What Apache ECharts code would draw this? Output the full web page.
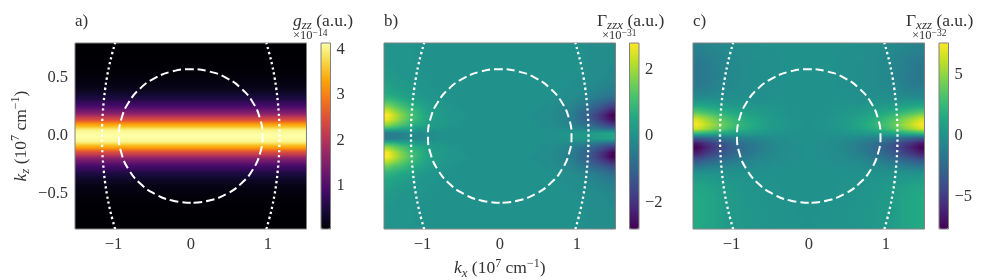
<!DOCTYPE html>
<html><head><meta charset="utf-8">
<style>html,body{margin:0;padding:0;background:#fff}#c{width:996px;height:280px}</style>
<script src="https://cdn.jsdelivr.net/npm/echarts@6/dist/echarts.min.js"></script>
</head><body><div id="c"></div>
<script>
const panelLabels=['a)','b)','c)'];
const kxCols=[-1.45,-1.35,-1.25,-1.15,-1.05,-.95,-.85,-.75,-.65,-.55,-.45,-.35,-.25,-.15,-.05,.05,.15,.25,.35,.45,.55,.65,.75,.85,.95,1.05,1.15,1.25,1.35,1.45];
const kzRows=[.78,.74,.7,.66,.62,.58,.54,.5,.46,.42,.38,.34,.3,.26,.22,.18,.14,.1,.06,.02,-.02,-.06,-.1,-.14,-.18,-.22,-.26,-.3,-.34,-.38,-.42,-.46,-.5,-.54,-.58,-.62,-.66,-.7,-.74,-.78];
const kzFine=[.79,.77,.75,.73,.71,.69,.67,.65,.63,.61,.59,.57,.55,.53,.51,.49,.47,.45,.43,.41,.39,.37,.35,.33,.31,.29,.27,.25,.23,.21,.19,.17,.15,.13,.11,.09,.07,.05,.03,.01,-.01,-.03,-.05,-.07,-.09,-.11,-.13,-.15,-.17,-.19,-.21,-.23,-.25,-.27,-.29,-.31,-.33,-.35,-.37,-.39,-.41,-.43,-.45,-.47,-.49,-.51,-.53,-.55,-.57,-.59,-.61,-.63,-.65,-.67,-.69,-.71,-.73,-.75,-.77,-.79];
const gzz=[.06,.06,.06,.06,.06,.07,.07,.07,.07,.07,.08,.08,.09,.1,.11,.13,.15,.17,.2,.24,.29,.35,.42,.5,.6,.72,.85,1,1.18,1.4,1.65,1.95,2.3,2.65,3.05,3.4,3.75,4,4.1,4.14,4.14,4.1,4,3.75,3.4,3.05,2.65,2.3,1.95,1.65,1.4,1.18,1,.85,.72,.6,.5,.42,.35,.29,.24,.2,.17,.15,.13,.11,.1,.09,.08,.08,.07,.07,.07,.07,.07,.06,.06,.06,.06,.06];
const gammaZzx=[
[.1,.1,.1,.1,0,0,0,0,0,0,0,0,0,0,0,0,0,0,0,0,0,0,0,0,0,0,-.1,-.1,-.1,-.1],
[.1,.1,.1,.1,0,0,0,0,0,0,0,0,0,0,0,0,0,0,0,0,0,0,0,0,0,0,-.1,-.1,-.1,-.1],
[.1,.1,.1,.1,0,0,0,0,0,0,0,0,0,0,0,0,0,0,0,0,0,0,0,0,0,0,-.1,-.1,-.1,-.1],
[.1,.1,.1,.1,0,0,0,0,0,0,0,0,0,0,0,0,0,0,0,0,0,0,0,0,0,0,-.1,-.1,-.1,-.1],
[.1,.1,.1,.1,0,0,0,0,0,0,0,0,0,0,0,0,0,0,0,0,0,0,0,0,0,0,-.1,-.1,-.1,-.1],
[.2,.1,.1,.1,0,0,0,0,0,0,0,0,0,0,0,0,0,0,0,0,0,0,0,0,0,0,-.1,-.1,-.1,-.2],
[.2,.1,.1,.1,.1,0,0,0,0,0,0,0,0,0,0,0,0,0,0,0,0,0,0,0,0,-.1,-.1,-.1,-.1,-.2],
[.2,.2,.1,.1,.1,0,0,0,0,0,0,0,0,0,0,0,0,0,0,0,0,0,0,0,0,-.1,-.1,-.1,-.2,-.2],
[.3,.2,.2,.1,.1,.1,0,0,0,0,0,0,0,0,0,0,0,0,0,0,0,0,0,0,-.1,-.1,-.1,-.2,-.2,-.3],
[.4,.3,.2,.2,.1,.1,0,0,0,0,0,0,0,0,0,0,0,0,0,0,0,0,0,0,-.1,-.1,-.2,-.2,-.3,-.4],
[.5,.4,.3,.2,.1,.1,.1,0,0,0,0,0,0,0,0,0,0,0,0,0,0,0,0,-.1,-.1,-.1,-.2,-.3,-.4,-.5],
[.7,.6,.4,.3,.2,.1,.1,0,0,0,0,0,0,0,0,0,0,0,0,0,0,0,0,-.1,-.1,-.2,-.3,-.4,-.6,-.7],
[1.1,.9,.7,.5,.3,.2,.1,.1,0,0,0,0,0,0,0,0,0,0,0,0,0,0,-.1,-.1,-.2,-.3,-.5,-.7,-.9,-1.1],
[1.6,1.3,1,.7,.5,.3,.2,.1,.1,0,0,0,0,0,0,0,0,0,0,0,0,-.1,-.1,-.2,-.3,-.5,-.7,-1,-1.3,-1.6],
[2.3,1.8,1.4,1,.7,.4,.3,.2,.1,.1,0,0,0,0,0,0,0,0,0,0,-.1,-.1,-.2,-.3,-.4,-.7,-1,-1.4,-1.8,-2.3],
[2.8,2.2,1.7,1.2,.8,.5,.3,.2,.1,.1,.1,0,0,0,0,0,0,0,0,-.1,-.1,-.1,-.2,-.3,-.5,-.8,-1.2,-1.7,-2.2,-2.8],
[2.6,2.1,1.6,1.1,.8,.5,.3,.2,.1,.1,0,0,0,0,0,0,0,0,0,0,-.1,-.1,-.2,-.3,-.5,-.8,-1.1,-1.6,-2.1,-2.6],
[1.9,1.5,1.2,.8,.6,.4,.2,.2,.1,.1,0,0,0,0,0,0,0,0,0,0,-.1,-.1,-.2,-.2,-.4,-.6,-.8,-1.2,-1.5,-1.9],
[.8,.7,.5,.4,.2,.2,.1,.1,0,0,0,0,0,0,0,0,0,0,0,0,0,0,-.1,-.1,-.2,-.2,-.4,-.5,-.7,-.8],
[-.5,-.4,-.3,-.2,-.2,-.1,-.1,0,0,0,0,0,0,0,0,0,0,0,0,0,0,0,0,.1,.1,.2,.2,.3,.4,.5],
[-.5,-.4,-.3,-.2,-.2,-.1,-.1,0,0,0,0,0,0,0,0,0,0,0,0,0,0,0,0,.1,.1,.2,.2,.3,.4,.5],
[.8,.7,.5,.4,.2,.2,.1,.1,0,0,0,0,0,0,0,0,0,0,0,0,0,0,-.1,-.1,-.2,-.2,-.4,-.5,-.7,-.8],
[1.9,1.5,1.2,.8,.6,.4,.2,.2,.1,.1,0,0,0,0,0,0,0,0,0,0,-.1,-.1,-.2,-.2,-.4,-.6,-.8,-1.2,-1.5,-1.9],
[2.7,2.1,1.6,1.1,.8,.5,.3,.2,.1,.1,0,0,0,0,0,0,0,0,0,0,-.1,-.1,-.2,-.3,-.5,-.8,-1.1,-1.6,-2.1,-2.7],
[2.8,2.2,1.7,1.2,.8,.5,.3,.2,.1,.1,.1,0,0,0,0,0,0,0,0,-.1,-.1,-.1,-.2,-.3,-.5,-.8,-1.2,-1.7,-2.2,-2.8],
[2.2,1.8,1.4,1,.7,.4,.3,.2,.1,.1,0,0,0,0,0,0,0,0,0,0,-.1,-.1,-.2,-.3,-.4,-.7,-1,-1.4,-1.8,-2.2],
[1.5,1.2,1,.7,.5,.3,.2,.1,.1,0,0,0,0,0,0,0,0,0,0,0,0,-.1,-.1,-.2,-.3,-.5,-.7,-1,-1.2,-1.5],
[1,.8,.7,.5,.3,.2,.1,.1,0,0,0,0,0,0,0,0,0,0,0,0,0,0,-.1,-.1,-.2,-.3,-.5,-.7,-.8,-1],
[.7,.6,.4,.3,.2,.1,.1,0,0,0,0,0,0,0,0,0,0,0,0,0,0,0,0,-.1,-.1,-.2,-.3,-.4,-.6,-.7],
[.5,.4,.3,.2,.1,.1,.1,0,0,0,0,0,0,0,0,0,0,0,0,0,0,0,0,-.1,-.1,-.1,-.2,-.3,-.4,-.5],
[.4,.3,.2,.2,.1,.1,0,0,0,0,0,0,0,0,0,0,0,0,0,0,0,0,0,0,-.1,-.1,-.2,-.2,-.3,-.4],
[.3,.2,.2,.1,.1,.1,0,0,0,0,0,0,0,0,0,0,0,0,0,0,0,0,0,0,-.1,-.1,-.1,-.2,-.2,-.3],
[.2,.2,.1,.1,.1,0,0,0,0,0,0,0,0,0,0,0,0,0,0,0,0,0,0,0,0,-.1,-.1,-.1,-.2,-.2],
[.2,.1,.1,.1,.1,0,0,0,0,0,0,0,0,0,0,0,0,0,0,0,0,0,0,0,0,-.1,-.1,-.1,-.1,-.2],
[.2,.1,.1,.1,0,0,0,0,0,0,0,0,0,0,0,0,0,0,0,0,0,0,0,0,0,0,-.1,-.1,-.1,-.2],
[.1,.1,.1,.1,0,0,0,0,0,0,0,0,0,0,0,0,0,0,0,0,0,0,0,0,0,0,-.1,-.1,-.1,-.1],
[.1,.1,.1,.1,0,0,0,0,0,0,0,0,0,0,0,0,0,0,0,0,0,0,0,0,0,0,-.1,-.1,-.1,-.1],
[.1,.1,.1,.1,0,0,0,0,0,0,0,0,0,0,0,0,0,0,0,0,0,0,0,0,0,0,-.1,-.1,-.1,-.1],
[.1,.1,.1,.1,0,0,0,0,0,0,0,0,0,0,0,0,0,0,0,0,0,0,0,0,0,0,-.1,-.1,-.1,-.1],
[.1,.1,.1,.1,0,0,0,0,0,0,0,0,0,0,0,0,0,0,0,0,0,0,0,0,0,0,-.1,-.1,-.1,-.1]];
const gammaXzz=[
[-.9,-.8,-.7,-.5,-.4,-.3,-.2,-.1,-.1,0,0,0,0,0,0,0,0,0,0,0,0,-.1,-.1,-.2,-.3,-.4,-.5,-.7,-.8,-.9],
[-1,-.9,-.8,-.6,-.4,-.3,-.2,-.2,-.1,-.1,0,0,0,0,0,0,0,0,0,0,-.1,-.1,-.2,-.2,-.3,-.4,-.6,-.8,-.9,-1],
[-1.2,-1.1,-.9,-.7,-.5,-.4,-.2,-.2,-.1,-.1,-.1,0,0,0,0,0,0,0,0,-.1,-.1,-.1,-.2,-.2,-.4,-.5,-.7,-.9,-1.1,-1.2],
[-1.4,-1.3,-1.1,-.8,-.6,-.4,-.3,-.2,-.1,-.1,-.1,0,0,0,0,0,0,0,0,-.1,-.1,-.1,-.2,-.3,-.4,-.6,-.8,-1.1,-1.3,-1.4],
[-1.5,-1.4,-1.1,-.8,-.6,-.5,-.3,-.2,-.2,-.1,-.1,0,0,0,0,0,0,0,0,-.1,-.1,-.2,-.2,-.3,-.5,-.6,-.8,-1.1,-1.4,-1.5],
[-1.6,-1.4,-1.2,-.9,-.6,-.5,-.3,-.2,-.2,-.1,-.1,0,0,0,0,0,0,0,0,-.1,-.1,-.2,-.2,-.3,-.5,-.6,-.9,-1.2,-1.4,-1.6],
[-1.6,-1.4,-1.2,-.9,-.6,-.5,-.3,-.2,-.2,-.1,-.1,0,0,0,0,0,0,0,0,-.1,-.1,-.2,-.2,-.3,-.5,-.6,-.9,-1.2,-1.4,-1.6],
[-1.6,-1.4,-1.2,-.9,-.6,-.5,-.3,-.2,-.2,-.1,-.1,0,0,0,0,0,0,0,0,-.1,-.1,-.2,-.2,-.3,-.5,-.6,-.9,-1.2,-1.4,-1.6],
[-1.5,-1.4,-1.1,-.8,-.6,-.5,-.3,-.2,-.2,-.1,-.1,0,0,0,0,0,0,0,0,-.1,-.1,-.2,-.2,-.3,-.5,-.6,-.8,-1.1,-1.4,-1.5],
[-1.3,-1.2,-1,-.7,-.5,-.4,-.3,-.2,-.1,-.1,-.1,0,0,0,0,0,0,0,0,-.1,-.1,-.1,-.2,-.3,-.4,-.5,-.7,-1,-1.2,-1.3],
[-1,-.9,-.8,-.6,-.4,-.3,-.2,-.2,-.1,-.1,0,0,0,0,0,0,0,0,0,0,-.1,-.1,-.2,-.2,-.3,-.4,-.6,-.8,-.9,-1],
[-.5,-.5,-.4,-.3,-.2,-.2,-.1,-.1,-.1,0,0,0,0,0,0,0,0,0,0,0,0,-.1,-.1,-.1,-.2,-.2,-.3,-.4,-.5,-.5],
[.3,.3,.2,.2,.1,.1,.1,0,0,0,0,0,0,0,0,0,0,0,0,0,0,0,0,.1,.1,.1,.2,.2,.3,.3],
[1.4,1.2,1,.8,.6,.5,.4,.3,.2,.2,.1,.1,0,0,0,0,0,0,.1,.1,.2,.2,.3,.4,.5,.6,.8,1,1.2,1.4],
[3,2.6,2.2,1.7,1.4,1.1,.9,.7,.5,.4,.2,.2,.1,0,0,0,0,.1,.2,.2,.4,.5,.7,.9,1.1,1.4,1.7,2.2,2.6,3],
[4.8,4.1,3.5,2.8,2.2,1.8,1.4,1.1,.8,.6,.4,.2,.1,0,0,0,0,.1,.2,.4,.6,.8,1.1,1.4,1.8,2.2,2.8,3.5,4.1,4.8],
[6.6,5.6,4.8,3.8,3,2.4,1.9,1.5,1.1,.8,.5,.3,.2,.1,0,0,.1,.2,.3,.5,.8,1.1,1.5,1.9,2.4,3,3.8,4.8,5.6,6.6],
[7.5,6.4,5.4,4.4,3.5,2.8,2.2,1.7,1.3,.9,.6,.4,.2,.1,0,0,.1,.2,.4,.6,.9,1.3,1.7,2.2,2.8,3.5,4.4,5.4,6.4,7.5],
[6.5,5.5,4.7,3.8,3,2.4,1.9,1.5,1.1,.8,.5,.3,.2,.1,0,0,.1,.2,.3,.5,.8,1.1,1.5,1.9,2.4,3,3.8,4.7,5.5,6.5],
[2.5,2.1,1.8,1.5,1.2,.9,.7,.6,.4,.3,.2,.1,.1,0,0,0,0,.1,.1,.2,.3,.4,.6,.7,.9,1.2,1.5,1.8,2.1,2.5],
[-3.5,-3,-2.5,-2,-1.6,-1.3,-1,-.8,-.6,-.4,-.3,-.2,-.1,0,0,0,0,-.1,-.2,-.3,-.4,-.6,-.8,-1,-1.3,-1.6,-2,-2.5,-3,-3.5],
[-6.5,-5.5,-4.7,-3.8,-3,-2.4,-1.9,-1.5,-1.1,-.8,-.5,-.3,-.2,-.1,0,0,-.1,-.2,-.3,-.5,-.8,-1.1,-1.5,-1.9,-2.4,-3,-3.8,-4.7,-5.5,-6.5],
[-7.5,-6.4,-5.4,-4.4,-3.5,-2.8,-2.2,-1.7,-1.3,-.9,-.6,-.4,-.2,-.1,0,0,-.1,-.2,-.4,-.6,-.9,-1.3,-1.7,-2.2,-2.8,-3.5,-4.4,-5.4,-6.4,-7.5],
[-6.5,-5.5,-4.7,-3.8,-3,-2.4,-1.9,-1.5,-1.1,-.8,-.5,-.3,-.2,-.1,0,0,-.1,-.2,-.3,-.5,-.8,-1.1,-1.5,-1.9,-2.4,-3,-3.8,-4.7,-5.5,-6.5],
[-5,-4.3,-3.6,-2.9,-2.3,-1.9,-1.5,-1.2,-.9,-.6,-.4,-.3,-.2,-.1,0,0,-.1,-.2,-.3,-.4,-.6,-.9,-1.2,-1.5,-1.9,-2.3,-2.9,-3.6,-4.3,-5],
[-3.2,-2.7,-2.3,-1.9,-1.5,-1.2,-.9,-.7,-.5,-.4,-.3,-.2,-.1,0,0,0,0,-.1,-.2,-.3,-.4,-.5,-.7,-.9,-1.2,-1.5,-1.9,-2.3,-2.7,-3.2],
[-1.6,-1.4,-1.2,-.9,-.7,-.6,-.5,-.4,-.3,-.2,-.1,-.1,0,0,0,0,0,0,-.1,-.1,-.2,-.3,-.4,-.5,-.6,-.7,-.9,-1.2,-1.4,-1.6],
[-.4,-.4,-.3,-.2,-.2,-.1,-.1,-.1,0,0,0,0,0,0,0,0,0,0,0,0,0,0,-.1,-.1,-.1,-.2,-.2,-.3,-.4,-.4],
[.3,.3,.2,.2,.1,.1,.1,0,0,0,0,0,0,0,0,0,0,0,0,0,0,0,0,.1,.1,.1,.2,.2,.3,.3],
[.8,.7,.6,.4,.3,.2,.2,.1,.1,0,0,0,0,0,0,0,0,0,0,0,0,.1,.1,.2,.2,.3,.4,.6,.7,.8],
[1.2,1.1,.9,.7,.5,.4,.2,.2,.1,.1,.1,0,0,0,0,0,0,0,0,.1,.1,.1,.2,.2,.4,.5,.7,.9,1.1,1.2],
[1.4,1.3,1.1,.8,.6,.4,.3,.2,.1,.1,.1,0,0,0,0,0,0,0,0,.1,.1,.1,.2,.3,.4,.6,.8,1.1,1.3,1.4],
[1.5,1.4,1.1,.8,.6,.5,.3,.2,.2,.1,.1,0,0,0,0,0,0,0,0,.1,.1,.2,.2,.3,.5,.6,.8,1.1,1.4,1.5],
[1.6,1.4,1.2,.9,.6,.5,.3,.2,.2,.1,.1,.1,0,0,0,0,0,0,.1,.1,.1,.2,.2,.3,.5,.6,.9,1.2,1.4,1.6],
[1.6,1.4,1.2,.9,.6,.5,.3,.2,.2,.1,.1,.1,0,0,0,0,0,0,.1,.1,.1,.2,.2,.3,.5,.6,.9,1.2,1.4,1.6],
[1.6,1.4,1.2,.9,.6,.5,.4,.3,.2,.2,.1,.1,.1,0,0,0,0,.1,.1,.1,.2,.2,.3,.4,.5,.6,.9,1.2,1.4,1.6],
[1.6,1.4,1.2,.9,.6,.5,.4,.3,.2,.2,.1,.1,.1,0,0,0,0,.1,.1,.1,.2,.2,.3,.4,.5,.6,.9,1.2,1.4,1.6],
[1.6,1.4,1.2,.9,.6,.5,.4,.3,.2,.2,.1,.1,.1,.1,0,0,.1,.1,.1,.1,.2,.2,.3,.4,.5,.6,.9,1.2,1.4,1.6],
[1.6,1.4,1.2,.9,.6,.5,.4,.3,.2,.2,.1,.1,.1,.1,0,0,.1,.1,.1,.1,.2,.2,.3,.4,.5,.6,.9,1.2,1.4,1.6],
[1.6,1.4,1.2,.9,.6,.5,.4,.3,.2,.2,.1,.1,.1,.1,0,0,.1,.1,.1,.1,.2,.2,.3,.4,.5,.6,.9,1.2,1.4,1.6]];
const dashKx=[0,-.241,-.465,-.658,-.805,-.898,-.93,-.898,-.805,-.658,-.465,-.241,0,.241,.465,.658,.805,.898,.93,.898,.805,.658,.465,.241,0];
const dashKz=[-.575,-.555,-.498,-.407,-.288,-.149,0,.149,.288,.407,.498,.555,.575,.555,.498,.407,.288,.149,0,-.149,-.288,-.407,-.498,-.555,-.575];
const dotKz=[-.8,-.7,-.6,-.5,-.4,-.3,-.2,-.1,0,.1,.2,.3,.4,.5,.6,.7,.8];
const dotKxRight=[.98,1.022,1.058,1.087,1.11,1.127,1.14,1.148,1.15,1.148,1.14,1.127,1.11,1.087,1.058,1.022,.98];
const dotKxLeft=[-.98,-1.022,-1.058,-1.087,-1.11,-1.127,-1.14,-1.148,-1.15,-1.148,-1.14,-1.127,-1.11,-1.087,-1.058,-1.022,-.98];
const kxTicks=[-1,0,1];
const kzTicks=[-.5,0,.5];
const barTicks=[[1,2,3,4],[-2,0,2],[-5,0,5]];
const barRange=[[.06,4.14],[-2.8,2.8],[-7.62,7.62]];
const inferno=['#000004','#160b39','#420a68','#6a176e','#932667','#bc3754','#dd513a','#f37819','#fca50a','#f6d746','#fcffa4'];
const viridis=['#440154','#482475','#414487','#355f8d','#2a788e','#21918c','#22a884','#44bf70','#7ad151','#bddf26','#fde725'];

const FONT='"Liberation Serif"',INK='#333',GREY='#808080';
const B={fontFamily:FONT,fontWeight:'normal',color:INK};
const rich={m:{...B,fontStyle:'italic',fontSize:17.5,lineHeight:22,verticalAlign:'middle'},
 r:{...B,fontSize:17.5,lineHeight:22,verticalAlign:'middle'},
 s:{...B,fontStyle:'italic',fontSize:13,lineHeight:22,verticalAlign:'bottom'},
 u:{...B,fontSize:12,lineHeight:22,verticalAlign:'top'},
 e:{...B,fontSize:12.5,lineHeight:14,verticalAlign:'bottom'},
 f:{...B,fontSize:9.5,lineHeight:14,verticalAlign:'top'}};
const lefts=[75,384,693],barLefts=[321,629.5,939];
const W=231.5,T=43,H=186;
const grid=[],xAxis=[],yAxis=[],series=[],visualMap=[],title=[];
const base={type:'value',silent:true,splitLine:{show:false}};
const heats=[gzz.map(v=>[v]),gammaZzx,gammaXzz];
const heatRows=[kzFine,kzRows,kzRows];
const heatCols=[['all kx'],kxCols,kxCols];
const maps=[inferno,viridis,viridis];
const NB='\u00a0';
const nameLabel='{m|k}{s|%}{r|'+NB+'(10}{u|7}{r|'+NB+'cm}{u|−1}{r|)}';
const barTitles=['{m|g}{s|zz}{r|'+NB+'(a.u.)}','{r|Γ}{s|zzx}{r|'+NB+'(a.u.)}','{r|Γ}{s|xzz}{r|'+NB+'(a.u.)}'];
const barExps=['{e|×10}{f|−14}','{e|×10}{f|−31}','{e|×10}{f|−32}'];
const barTitleLeft=[293,597,906],barExpLeft=[293,602,912];
const shade=p=>v=>echarts.color.lerp(Math.min(1,Math.max(0,(v-barRange[p][0])/(barRange[p][1]-barRange[p][0]))),maps[p]);
function cellRenderer(p){
 const col=shade(p),m=heats[p],nr=m.length;
 // paints the typed cell with colour ramps towards its neighbours, one pixel strip at a time
 const at=(j,i,t)=>{const o=t<0?Math.max(0,j-1):Math.min(nr-1,j+1);return m[j][i]+Math.abs(t)*(m[o][i]-m[j][i]);};
 return function(params,api){
  const i=api.value(0),j=api.value(1),nc=m[j].length;
  const c=api.coord([i,j]),s=api.size([1,1]);
  const x0=Math.round(c[0]-s[0]/2),x1=Math.round(c[0]+s[0]/2);
  const y0=Math.round(c[1]-s[1]/2),y1=Math.round(c[1]+s[1]/2);
  const n=Math.max(1,y1-y0),children=[];
  for(let k=0;k<n;k++){
   const t=(k+.5)/n-.5,v=at(j,i,t);
   const l=i>0?(at(j,i-1,t)+v)/2:v,r=i<nc-1?(at(j,i+1,t)+v)/2:v;
   children.push({type:'rect',shape:{x:x0,y:y0+k,width:x1-x0,height:1},
    style:{fill:{type:'linear',x:0,y:0,x2:1,y2:0,global:false,colorStops:[{offset:0,color:col(l)},{offset:.5,color:col(v)},{offset:1,color:col(r)}]}}});
  }
  return {type:'group',children};
 };
}
for(let p=0;p<3;p++){
 grid.push({left:lefts[p],top:T,width:W,height:H,show:false,outerBoundsMode:'none'});
 xAxis.push({type:'category',gridIndex:p,data:heatCols[p],show:false});
 yAxis.push({type:'category',gridIndex:p,data:heatRows[p],inverse:true,show:false});
 const d=[];heats[p].forEach((row,j)=>row.forEach((v,i)=>d.push([i,j,v])));
 series.push({type:'custom',xAxisIndex:p,yAxisIndex:p,data:d,silent:true,encode:{x:0,y:1},renderItem:cellRenderer(p),progressive:0,z:2});
 visualMap.push({type:'continuous',seriesIndex:p,dimension:2,min:barRange[p][0],max:barRange[p][1],inRange:{color:maps[p]},
  left:barLefts[p],top:T,itemWidth:9.5,itemHeight:H,padding:0,text:null,calculable:false,realtime:false,hoverLink:false,z:1});
}
for(let p=0;p<3;p++){
 const g=grid.length;
 grid.push({left:lefts[p],top:T,width:W,height:H,show:true,borderColor:GREY,borderWidth:1,backgroundColor:'transparent',z:10,outerBoundsMode:'none'});
 xAxis.push({...base,gridIndex:g,min:-1.5,max:1.5,axisLine:{show:false},
  axisTick:{show:true,length:4,lineStyle:{color:GREY},customValues:kxTicks},
  axisLabel:{customValues:kxTicks,fontFamily:FONT,fontSize:16.5,color:INK,margin:7,formatter:v=>String(v).replace('-','−')},
  ...(p==1?{name:nameLabel.replace('%','x'),nameLocation:'middle',nameGap:27,nameTextStyle:{rich}}:{})});
 yAxis.push({...base,gridIndex:g,min:-.8,max:.8,axisLine:{show:false},
  axisTick:{show:true,length:4,lineStyle:{color:GREY},customValues:kzTicks},
  axisLabel:{show:p==0,customValues:kzTicks,fontFamily:FONT,fontSize:16.5,color:INK,margin:7,formatter:v=>v.toFixed(1).replace('-','−')},
  ...(p==0?{name:nameLabel.replace('%','z'),nameLocation:'middle',nameRotate:90,nameGap:43,nameTextStyle:{rich}}:{})});
 const lineBase={type:'line',xAxisIndex:g,yAxisIndex:g,showSymbol:false,symbol:'none',silent:true,z:12};
 series.push({...lineBase,smooth:true,data:dashKx.map((x,i)=>[x,dashKz[i]]),lineStyle:{color:'#fff',width:2,type:[8.5,4]}});
 series.push({...lineBase,smooth:true,data:dotKxLeft.map((x,i)=>[x,dotKz[i]]),lineStyle:{color:'#fff',width:2.3,type:[2.3,2.9]}});
 series.push({...lineBase,smooth:true,data:dotKxRight.map((x,i)=>[x,dotKz[i]]),lineStyle:{color:'#fff',width:2.3,type:[2.3,2.9]}});
 title.push({text:panelLabels[p],left:lefts[p],top:13,padding:0,textStyle:{fontFamily:FONT,fontSize:17,fontWeight:'normal',color:INK}});
 title.push({text:barTitles[p],left:barTitleLeft[p],top:10,padding:0,textStyle:{fontWeight:'normal',rich}});
 title.push({text:barExps[p],left:barExpLeft[p],top:28,padding:0,textStyle:{fontWeight:'normal',rich}});
}
for(let p=0;p<3;p++){
 const g=grid.length;
 grid.push({left:barLefts[p],top:T,width:9.5,height:H,show:true,borderColor:GREY,borderWidth:1,backgroundColor:'transparent',z:10,outerBoundsMode:'none'});
 xAxis.push({...base,gridIndex:g,show:false,min:0,max:1});
 yAxis.push({...base,gridIndex:g,position:'right',min:barRange[p][0],max:barRange[p][1],axisLine:{show:false},
  axisTick:{show:true,length:4,lineStyle:{color:GREY},customValues:barTicks[p]},
  axisLabel:{customValues:barTicks[p],fontFamily:FONT,fontSize:16.5,color:INK,margin:6,formatter:v=>String(v).replace('-','−')}});
}
const chart=echarts.init(document.getElementById('c'),null,{renderer:'canvas'});
chart.setOption({animation:false,backgroundColor:'#fff',title,grid,xAxis,yAxis,series,visualMap,tooltip:{show:false}});
</script></body></html>
